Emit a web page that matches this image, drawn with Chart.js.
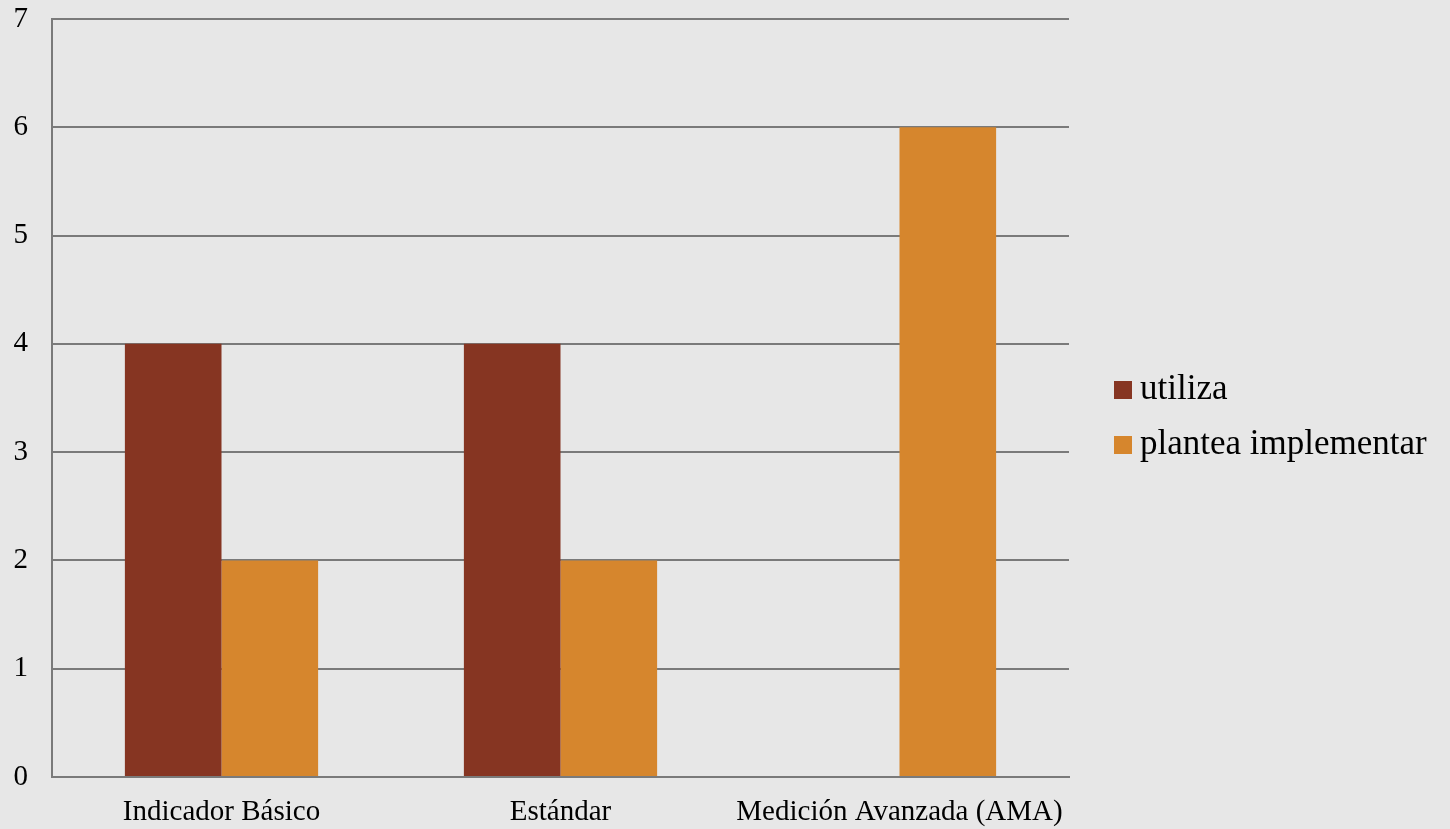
<!DOCTYPE html>
<html>
<head>
<meta charset="utf-8">
<script src="https://cdn.jsdelivr.net/npm/chart.js@4"></script>
<style>
  html, body { margin: 0; padding: 0; background: #e7e7e7; }
  #wrap { width: 1450px; height: 829px; }
</style>
</head>
<body>
<div id="wrap"><canvas id="riskChart" width="1450" height="829"></canvas></div>
<script>
const categories = ['Indicador Básico', 'Estándar', 'Medición Avanzada (AMA)'];
const utiliza = [4, 4, 0];
const planteaImplementar = [2, 2, 6];
const yTicks = [0, 1, 2, 3, 4, 5, 6, 7];

const FONT = "'Liberation Serif', 'DejaVu Serif', serif";
const gridGray = '#7a7a7a';

// legend drawn to the right of the plot, from the dataset labels/colours
const sideLegend = {
    id: 'sideLegend',
    afterDraw(chart) {
        const ctx = chart.ctx;
        const x = chart.chartArea.right + 45;
        let y = 390;
        ctx.save();
        ctx.font = '35px ' + FONT;
        ctx.textBaseline = 'middle';
        chart.data.datasets.forEach(ds => {
            ctx.fillStyle = ds.backgroundColor;
            ctx.fillRect(x, y - 9, 18, 18);
            ctx.fillStyle = '#000';
            ctx.fillText(ds.label, x + 26, y);
            y += 55;
        });
        ctx.restore();
    }
};

new Chart(document.getElementById('riskChart'), {
    type: 'bar',
    data: {
        labels: categories,
        datasets: [
            { label: 'utiliza', data: utiliza, backgroundColor: '#863522' },
            { label: 'plantea implementar', data: planteaImplementar, backgroundColor: '#d6862d' }
        ]
    },
    options: {
        responsive: false,
        animation: false,
        layout: { padding: { top: 19, right: 381, left: 0, bottom: 0 } },
        datasets: { bar: { categoryPercentage: 0.57, barPercentage: 1.0 } },
        scales: {
            x: {
                grid: { display: false },
                border: { display: true, color: gridGray, width: 2 },
                ticks: { color: '#000', font: { family: FONT, size: 29 }, padding: 10, maxRotation: 0 },
                afterFit(scale) { scale.height = 52; }
            },
            y: {
                min: 0,
                max: 7,
                afterBuildTicks(scale) { scale.ticks = yTicks.map(v => ({ value: v })); },
                grid: { color: gridGray, lineWidth: 2, drawTicks: false },
                border: { display: true, color: gridGray, width: 2 },
                ticks: { color: '#000', font: { family: FONT, size: 29 }, padding: 24 },
                afterFit(scale) {
                    scale.width = 52;
                    scale.paddingTop = 0;
                    scale.paddingBottom = 0;
                }
            }
        },
        plugins: {
            legend: { display: false },
            tooltip: { enabled: false }
        }
    },
    plugins: [sideLegend]
});
</script>
</body>
</html>
